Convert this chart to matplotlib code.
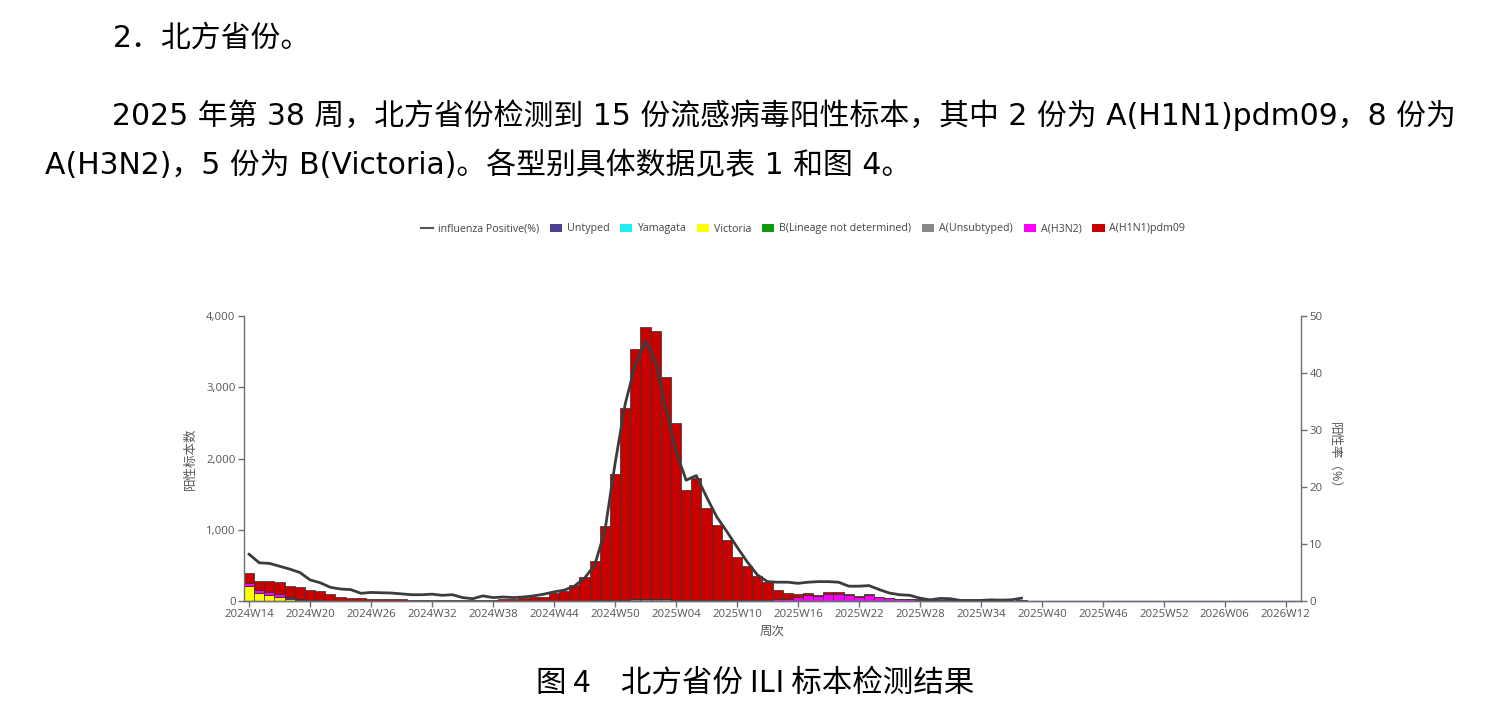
import numpy as np
import matplotlib
matplotlib.use("Agg")
import matplotlib.pyplot as plt
from matplotlib.patches import Patch
from matplotlib.lines import Line2D
from matplotlib.ticker import FuncFormatter

plt.rcParams['font.family'] = ['Open Sans', 'Noto Sans CJK SC', 'DejaVu Sans']

# weekly data from 2024W14 to 2025W38 (77 weeks)
untyped = [0] * 77
yamagata = [0] * 77
victoria = [210, 117, 80, 56, 33, 15, 8, 5, 3, 2, 1, 1, 0, 0, 0, 0, 0, 0, 0, 0,
            0, 0, 0, 0, 0, 0, 0, 0, 0, 0, 0, 0, 0, 0, 0, 0, 0, 0, 0, 0,
            0, 0, 0, 0, 0, 0, 0, 0, 0, 0, 0, 0, 0, 0, 0, 0, 0, 0, 0, 0,
            0, 0, 0, 0, 0, 0, 0, 0, 0, 0, 0, 0, 0, 0, 0, 0, 5]
b_lineage_nd = [0] * 77
a_unsubtyped = [0, 0, 0, 0, 10, 12, 3, 3, 2, 1, 0, 0, 0, 0, 0, 0, 0, 0, 0, 0,
                0, 0, 0, 0, 0, 0, 0, 0, 0, 0, 0, 0, 0, 0, 10, 12, 15, 20, 27, 30,
                30, 25, 20, 18, 15, 12, 10, 8, 6, 5, 4, 3, 2, 2, 2, 2, 2, 2, 2, 2,
                2, 2, 2, 2, 2, 2, 2, 2, 2, 2, 1, 1, 1, 1, 1, 1, 0]
h3n2 = [47, 38, 46, 47, 12, 6, 4, 3, 2, 1, 1, 0, 0, 0, 0, 0, 0, 0, 0, 0,
        0, 0, 0, 0, 0, 0, 0, 0, 0, 0, 0, 0, 0, 0, 0, 0, 0, 0, 0, 0,
        0, 0, 0, 0, 3, 4, 5, 6, 8, 10, 14, 18, 22, 30, 55, 85, 70, 100, 100, 80,
        60, 85, 50, 38, 28, 22, 16, 10, 8, 6, 5, 4, 4, 3, 3, 4, 8]
h1n1 = [143, 130, 157, 169, 155, 167, 133, 136, 93, 56, 45, 36, 30, 27, 25, 22, 20, 20, 18, 18,
        15, 15, 15, 18, 20, 30, 35, 40, 50, 60, 113, 142, 228, 333, 556, 1045, 1763, 2684, 3505, 3811,
        3759, 3123, 2474, 1545, 1713, 1285, 1052, 842, 608, 481, 338, 241, 130, 85, 43, 21, 16, 20, 18, 10,
        10, 8, 8, 7, 5, 4, 4, 3, 2, 2, 2, 1, 1, 1, 1, 1, 2]
positive_rate = [8.2, 6.7, 6.6, 6.1, 5.6, 5.0, 3.7, 3.2, 2.4, 2.1, 2.0, 1.35, 1.5, 1.45, 1.4, 1.25, 1.1, 1.1, 1.2, 1.0,
                 1.1, 0.6, 0.4, 0.9, 0.6, 0.7, 0.6, 0.7, 0.9, 1.2, 1.6, 1.9, 2.6, 4.0, 6.3, 12.2, 24.0, 34.5, 41.5, 45.6,
                 42.0, 33.8, 26.3, 21.2, 22.0, 18.3, 14.8, 12.2, 9.5, 6.9, 4.6, 3.4, 3.3, 3.3, 3.1, 3.3, 3.4, 3.4, 3.3, 2.6,
                 2.6, 2.7, 2.0, 1.4, 1.1, 1.0, 0.5, 0.2, 0.45, 0.4, 0.1, 0.1, 0.1, 0.2, 0.15, 0.2, 0.5]

series_names = ["Untyped", "Yamagata", "Victoria", "B(Lineage not determined)",
                "A(Unsubtyped)", "A(H3N2)", "A(H1N1)pdm09"]
series_colors = ["#4B3F8F", "#22EEEE", "#FFFF00", "#119911", "#888888", "#FF00FF", "#C80000"]
series_data = [untyped, yamagata, victoria, b_lineage_nd, a_unsubtyped, h3n2, h1n1]

# week categories on the x axis, 2024W14 .. 2026W13
week_labels = []
yr, wk = 2024, 14
for _ in range(104):
    week_labels.append(f"{yr}W{wk:02d}")
    wk += 1
    if wk > 52:
        yr, wk = yr + 1, 1

axis_col = "#6E7079"

fig = plt.figure(figsize=(14.89, 7.08), dpi=100)

# text above the chart
para_font = ['DejaVu Sans', 'Noto Sans CJK SC']
fig.text(113 / 1489, 1 - 38 / 708, "2．北方省份。", fontsize=21.5, family=para_font, va='center', ha='left')
fig.text(112 / 1489, 1 - 115 / 708,
         "2025 年第 38 周，北方省份检测到 15 份流感病毒阳性标本，其中 2 份为 A(H1N1)pdm09，8 份为",
         fontsize=21.5, family=para_font, va='center', ha='left')
fig.text(45 / 1489, 1 - 165 / 708,
         "A(H3N2)，5 份为 B(Victoria)。各型别具体数据见表 1 和图 4。",
         fontsize=21.5, family=para_font, va='center', ha='left')
fig.text(755 / 1489, 1 - 683 / 708, "图 4　北方省份 ILI 标本检测结果", fontsize=22,
         family=['Noto Sans CJK SC', 'DejaVu Sans'], va='center', ha='center')

ax = fig.add_axes([244 / 1489, 1 - 601 / 708, (1301 - 244) / 1489, (601 - 316) / 708])
ax2 = ax.twinx()

x = np.arange(len(h1n1))
bottom = np.zeros(len(h1n1))
for name, col, vals in zip(series_names, series_colors, series_data):
    vals = np.array(vals, dtype=float)
    ax.bar(x, vals, width=1.0, bottom=bottom, color=col, edgecolor=(0.2, 0.2, 0.2, 0.75),
           linewidth=0.7, label=name)
    bottom += vals

ax2.plot(x, positive_rate, color="#3C3C3C", lw=2.0)

ax.set_xlim(-0.5, 103.5)
ax.set_ylim(0, 4000)
ax2.set_ylim(0, 50)
ax.set_yticks([0, 1000, 2000, 3000, 4000])
ax.yaxis.set_major_formatter(FuncFormatter(lambda v, p: f"{int(v):,}"))
ax2.set_yticks([0, 10, 20, 30, 40, 50])
tick_pos = list(range(0, 104, 6))
ax.set_xticks(tick_pos)
ax.set_xticklabels([week_labels[i] for i in tick_pos])

for a in (ax, ax2):
    a.spines['top'].set_visible(False)
    for s in ('left', 'right', 'bottom'):
        a.spines[s].set_color(axis_col)
        a.spines[s].set_linewidth(1.0)
    a.tick_params(colors=axis_col, labelsize=8.2, length=4, width=1, pad=2)
    a.tick_params(labelcolor="#555555")
ax2.spines['left'].set_visible(False)
ax.spines['right'].set_visible(False)

ax.set_ylabel("阳性标本数", fontsize=9, color="#555555", labelpad=7)
ax2.set_ylabel("阳性率（%）", fontsize=9, color="#555555", rotation=270, labelpad=13)
ax.set_xlabel("周次", fontsize=9, color="#555555", labelpad=3)

handles = [Line2D([0], [0], color="#555555", lw=1.5)]
for name, col in zip(series_names, series_colors):
    handles.append(Patch(facecolor=col, edgecolor="none"))
labels = ["influenza Positive(%)"] + series_names
fig.legend(handles, labels, loc='center', bbox_to_anchor=(803 / 1489, 1 - 229 / 708), ncol=8,
           frameon=False, fontsize=7.7, handlelength=1.15, handleheight=0.75, handletextpad=0.45,
           columnspacing=1.0, labelcolor="#444444")

fig.savefig("out.png", dpi=100)
